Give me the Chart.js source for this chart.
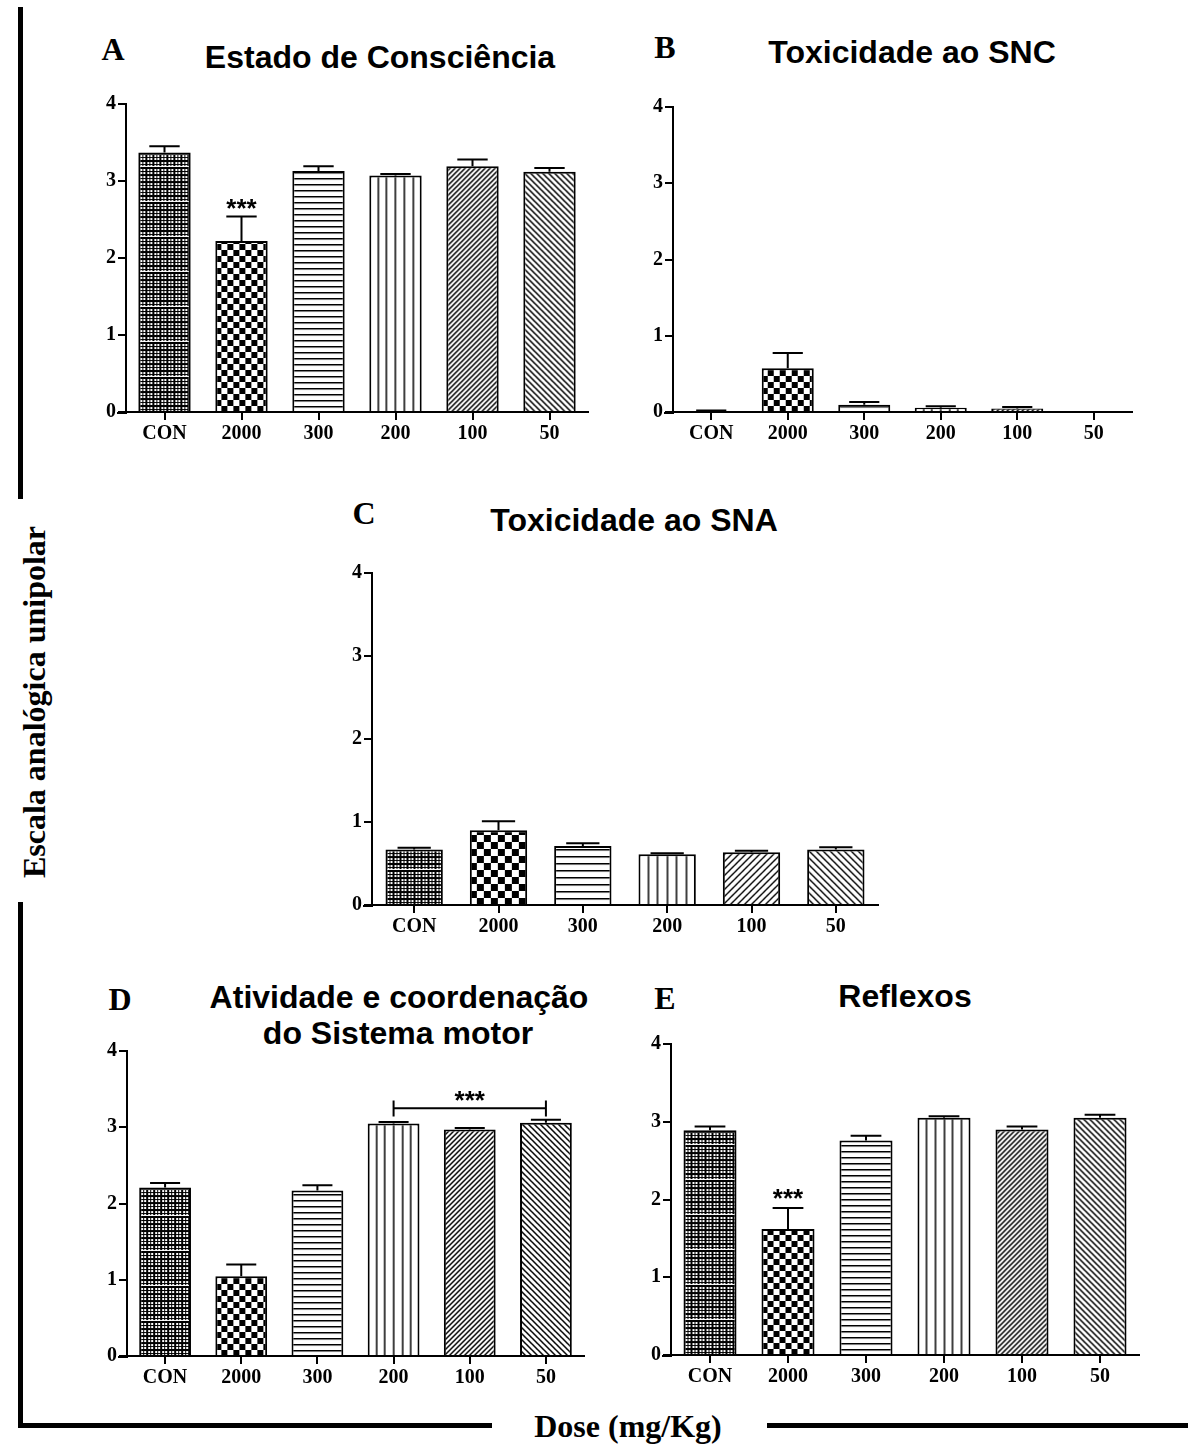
<!DOCTYPE html>
<html>
<head>
<meta charset="utf-8">
<script src="https://cdn.jsdelivr.net/npm/chart.js@4.4.1/dist/chart.umd.min.js"></script>
<style>
  body { margin: 0; background: #fff; width: 1188px; height: 1451px; position: relative; overflow: hidden; }
  .box { position: absolute; }
  .t { position: absolute; white-space: nowrap; line-height: 0; color: #000; font-weight: bold; }
  .sans { font-family: "Liberation Sans", Arial, sans-serif; }
  .serif { font-family: "Liberation Serif", "Times New Roman", serif; }
  .rule { position: absolute; background: #000; }
</style>
</head>
<body>
<div class="rule" style="left:18px;top:7px;width:5px;height:492px"></div>
<div class="rule" style="left:18px;top:902px;width:5px;height:526px"></div>
<div class="rule" style="left:18px;top:1423px;width:474px;height:5px"></div>
<div class="rule" style="left:767px;top:1423px;width:421px;height:5px"></div>

<script>
const categories = ['CON', '2000', '300', '200', '100', '50'];
const yTicks = [0, 1, 2, 3, 4];

// A - Estado de Consciência
const meanA = [3.37, 2.22, 3.13, 3.07, 3.19, 3.12];
const semA  = [0.08, 0.32, 0.06, 0.02, 0.09, 0.05];
// B - Toxicidade ao SNC
const meanB = [0.01, 0.575, 0.095, 0.056, 0.047, 0];
const semB  = [0.01, 0.20, 0.035, 0.02, 0.018, 0];
// C - Toxicidade ao SNA
const meanC = [0.67, 0.90, 0.71, 0.61, 0.635, 0.67];
const semC  = [0.02, 0.11, 0.035, 0.012, 0.018, 0.025];
// D - Atividade e coordenação do Sistema motor
const meanD = [2.21, 1.045, 2.17, 3.05, 2.97, 3.06];
const semD  = [0.06, 0.155, 0.07, 0.02, 0.02, 0.04];
// E - Reflexos
const meanE = [2.89, 1.62, 2.76, 3.05, 2.90, 3.05];
const semE  = [0.05, 0.27, 0.06, 0.02, 0.04, 0.04];

function text(str, x, base, fam, size, extra) {
  const d = document.createElement('div');
  d.className = 't ' + fam;
  d.textContent = str;
  const r = fam === 'sans' ? 0.3465 : 0.3375;
  d.style.fontSize = size + 'px';
  d.style.left = x + 'px';
  d.style.top = (base - r * size) + 'px';
  d.style.transform = 'translateX(-50%)' + (extra || '');
  document.body.appendChild(d);
  return d;
}

text('A', 113, 60, 'serif', 32);
text('B', 665, 58, 'serif', 32);
text('C', 364, 524, 'serif', 32);
text('D', 120, 1010, 'serif', 32);
text('E', 665, 1009, 'serif', 32);
text('Estado de Consciência', 380, 68, 'sans', 32);
text('Toxicidade ao SNC', 912, 63, 'sans', 32);
text('Toxicidade ao SNA', 634, 531, 'sans', 32);
text('Atividade e coordenação', 399, 1008, 'sans', 32);
text('do Sistema motor', 398, 1044, 'sans', 32);
text('Reflexos', 905, 1007, 'sans', 32);
text('Dose (mg/Kg)', 628, 1437, 'serif', 32);

const ylab = document.createElement('div');
ylab.className = 'serif';
ylab.textContent = 'Escala analógica unipolar';
ylab.style.cssText = 'position:absolute;left:34px;top:702px;font-size:32px;font-weight:bold;line-height:32px;white-space:nowrap;transform:translate(-50%,-50%) rotate(-90deg);';
document.body.appendChild(ylab);

function tile(w, h, draw) {
  const c = document.createElement('canvas');
  c.width = w; c.height = h;
  const g = c.getContext('2d');
  g.fillStyle = '#fff'; g.fillRect(0, 0, w, h);
  g.fillStyle = '#000'; g.strokeStyle = '#000';
  draw(g, w, h);
  return g.createPattern(c, 'repeat');
}

function diag(s, up, lw) {
  return tile(s, s, (g) => {
    g.lineWidth = lw;
    g.beginPath();
    if (up) {
      g.moveTo(-1, s + 1); g.lineTo(s + 1, -1);
      g.moveTo(-1, 1); g.lineTo(1, -1);
      g.moveTo(s - 1, s + 1); g.lineTo(s + 1, s - 1);
    } else {
      g.moveTo(-1, -1); g.lineTo(s + 1, s + 1);
      g.moveTo(-1, s - 1); g.lineTo(1, s + 1);
      g.moveTo(s - 1, -1); g.lineTo(s + 1, 1);
    }
    g.stroke();
  });
}

function makePatterns(barW, p) {
  const bw = Math.round(barW);
  return [
    // fine mesh: white squares on black, with a light band every 36px
    tile(7, 35, (g) => {
      g.fillStyle = '#fff';
      g.fillRect(0, 0, 7, 35);
      g.fillStyle = '#000';
      [0, 1, 4].forEach((x) => g.fillRect(x, 0, 1, 35));
      for (let y = 0; y < 34; y += 7) { g.fillRect(0, y, 7, 2); g.fillRect(0, y + 4, 7, 1); }
      g.fillStyle = '#fff';
      g.fillRect(0, 34, 7, 1);
    }),
    tile(p.cell * 2, p.cell * 2, (g) => {
      g.fillRect(0, 0, p.cell, p.cell);
      g.fillRect(p.cell, p.cell, p.cell, p.cell);
    }),
    tile(4, p.hp, (g) => { g.fillRect(0, 0, 4, 1.5); }),
    tile(bw, 4, (g) => {
      for (let j = 1; j < 6; j++) g.fillRect(Math.round(j * barW / 6) - 0.75, 0, 1.5, 4);
    }),
    diag(p.d1, true, p.lw),
    diag(p.d2, false, p.lw)
  ];
}

const errorBars = {
  id: 'errorBars',
  afterDatasetsDraw(chart, args, opts) {
    const meta = chart.getDatasetMeta(0);
    const ds = chart.data.datasets[0];
    const ys = chart.scales.y, xs = chart.scales.x;
    const ctx = chart.ctx;
    ctx.save();
    ctx.strokeStyle = '#000';
    ctx.fillStyle = '#000';
    ctx.lineWidth = 2;
    meta.data.forEach((bar, i) => {
      const s = ds.sem[i];
      if (!s) return;
      const top = ys.getPixelForValue(ds.data[i] + s);
      const half = bar.width * 0.29;
      ctx.beginPath();
      ctx.moveTo(bar.x, bar.y); ctx.lineTo(bar.x, top);
      ctx.moveTo(bar.x - half, top); ctx.lineTo(bar.x + half, top);
      ctx.stroke();
    });
    const size = 26;
    ctx.font = 'bold ' + size + 'px "Liberation Sans", Arial, sans-serif';
    ctx.textAlign = 'center';
    (opts.stars || []).forEach((st) => {
      ctx.fillText('***', xs.getPixelForValue(st.i), ys.getPixelForValue(st.v) + 0.575 * size);
    });
    const br = opts.bracket;
    if (br) {
      const x1 = xs.getPixelForValue(br.from), x2 = xs.getPixelForValue(br.to);
      const yb = ys.getPixelForValue(br.v);
      ctx.beginPath();
      ctx.moveTo(x1, yb); ctx.lineTo(x2, yb);
      ctx.moveTo(x1, ys.getPixelForValue(br.lo)); ctx.lineTo(x1, ys.getPixelForValue(br.hi));
      ctx.moveTo(x2, ys.getPixelForValue(br.lo)); ctx.lineTo(x2, ys.getPixelForValue(br.hi));
      ctx.stroke();
      ctx.fillText('***', xs.getPixelForValue(br.star), ys.getPixelForValue(br.sv) + 0.575 * size);
    }
    ctx.restore();
  },
  afterDraw(chart) {
    const ctx = chart.ctx, a = chart.chartArea;
    ctx.save();
    ctx.fillStyle = '#000';
    ctx.fillRect(a.left - 9, a.bottom, 10, 2);
    ctx.restore();
  }
};

function panel(area, means, sems, pat, marks) {
  const W = area.r - area.l + 70, H = area.b - area.t + 60;
  const wrap = document.createElement('div');
  wrap.className = 'box';
  wrap.style.left = (area.l - 60) + 'px';
  wrap.style.top = (area.t - 15) + 'px';
  const cv = document.createElement('canvas');
  cv.width = W; cv.height = H;
  cv.style.width = W + 'px'; cv.style.height = H + 'px';
  wrap.appendChild(cv);
  document.body.appendChild(wrap);

  const barPct = 0.68;
  const barW = (area.r - area.l) / categories.length * barPct;
  const pats = makePatterns(barW, pat);
  const tickFont = { family: '"Liberation Serif", "Times New Roman", serif', size: 20, weight: 'bold' };

  new Chart(cv, {
    type: 'bar',
    data: {
      labels: categories,
      datasets: [{
        data: means,
        sem: sems,
        backgroundColor: (c) => {
          if (c.type !== 'data') return '#fff';
          const p = pats[c.dataIndex];
          const xs = c.chart.scales.x;
          if (xs && c.chart.chartArea) {
            const left = xs.getPixelForValue(c.dataIndex) - barW / 2;
            p.setTransform(new DOMMatrix([1, 0, 0, 1, left, c.chart.chartArea.bottom]));
          }
          return p;
        },
        borderColor: '#000',
        borderWidth: 2,
        barPercentage: barPct,
        categoryPercentage: 1
      }]
    },
    options: {
      responsive: false,
      animation: false,
      devicePixelRatio: 1,
      layout: { padding: { left: 0, top: 15, right: 10, bottom: 0 } },
      plugins: {
        legend: { display: false },
        tooltip: { enabled: false },
        errorBars: marks || {}
      },
      scales: {
        x: {
          afterFit: (s) => { s.height = 45; },
          grid: { drawOnChartArea: false, drawTicks: true, tickLength: 8, color: '#000', lineWidth: 2, offset: false },
          border: { color: '#000', width: 2 },
          ticks: { color: '#000', font: tickFont, padding: 2, maxRotation: 0 }
        },
        y: {
          min: yTicks[0],
          max: yTicks[yTicks.length - 1],
          afterFit: (s) => { s.width = 60; },
          grid: { drawOnChartArea: false, drawTicks: true, tickLength: 8, color: '#000', lineWidth: 2 },
          border: { color: '#000', width: 2 },
          ticks: { color: '#000', font: tickFont, padding: 2, stepSize: 1 }
        }
      }
    },
    plugins: [errorBars]
  });
}

const dense = { cell: 6, hp: 6, d1: 5, d2: 6, lw: 1.5 };
const loose = { cell: 7, hp: 7, d1: 7, d2: 7, lw: 1.4 };

panel({ l: 126, t: 104, r: 588, b: 412 }, meanA, semA, dense, { stars: [{ i: 1, v: 2.73 }] });
panel({ l: 673, t: 107, r: 1132, b: 412 }, meanB, semB, dense);
panel({ l: 372, t: 573, r: 878, b: 905 }, meanC, semC, loose);
panel({ l: 127, t: 1051, r: 584, b: 1356 }, meanD, semD, dense,
  { bracket: { from: 3, to: 5, v: 3.25, lo: 3.14, hi: 3.35, star: 4, sv: 3.44 } });
panel({ l: 671, t: 1044, r: 1139, b: 1355 }, meanE, semE, dense, { stars: [{ i: 1, v: 2.10 }] });
</script>
</body>
</html>
